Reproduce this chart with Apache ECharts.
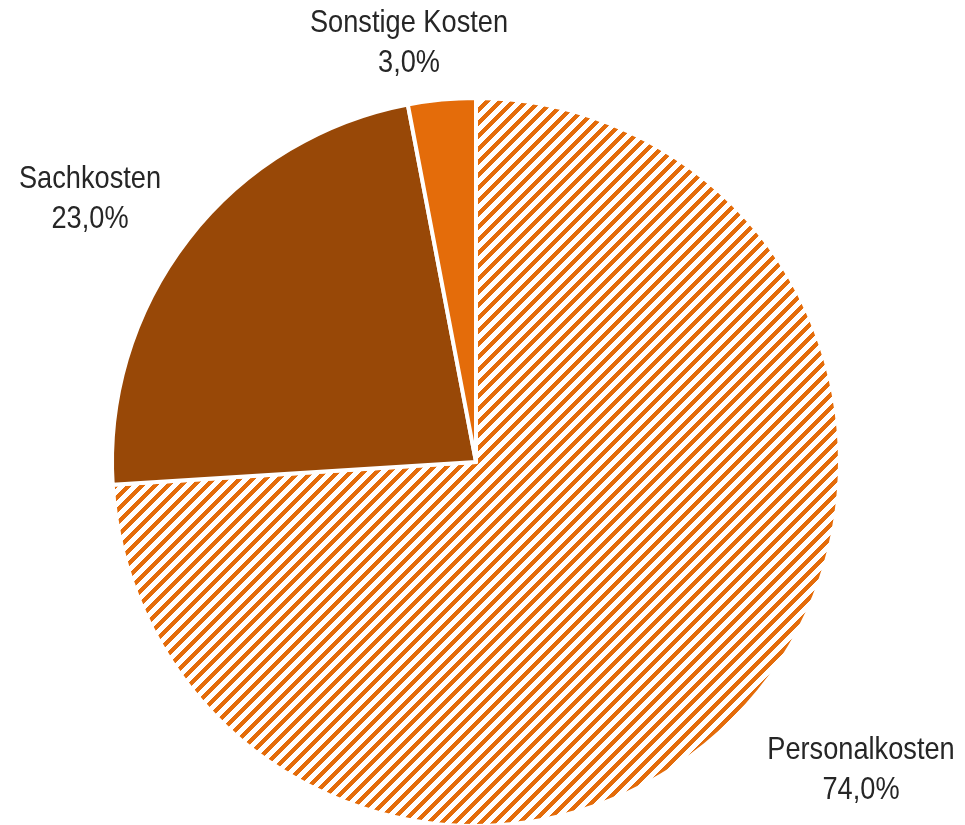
<!DOCTYPE html>
<html>
<head>
<meta charset="utf-8">
<style>
  html, body { margin: 0; padding: 0; background: #ffffff; }
  #chart { width: 965px; height: 825px; }
</style>
<script src="https://cdn.jsdelivr.net/npm/echarts@6/dist/echarts.min.js"></script>
</head>
<body>
<div id="chart"></div>
<script>
// Cost categories and their share in percent
const categories = ['Personalkosten', 'Sachkosten', 'Sonstige Kosten'];
const shares = [74.0, 23.0, 3.0];

// Label anchor points (block centres) for each slice, in pixels
const labelAnchors = [
  [861, 770],
  [90, 199],
  [409, 43]
];

const ORANGE = '#E46C0A';
const BROWN = '#984807';
const TEXT = '#262626';

// Diagonal hatch tile: crisp stripes rising to the right
function hatchTile(period, band, color) {
  const c = document.createElement('canvas');
  c.width = period;
  c.height = period;
  const ctx = c.getContext('2d');
  ctx.fillStyle = '#ffffff';
  ctx.fillRect(0, 0, period, period);
  ctx.fillStyle = color;
  for (let y = 0; y < period; y++) {
    for (let x = 0; x < period; x++) {
      if ((x + y) % period < band) ctx.fillRect(x, y, 1, 1);
    }
  }
  return c;
}

const fills = [
  { image: hatchTile(13, 6, ORANGE), repeat: 'repeat' },
  BROWN,
  ORANGE
];

const fmt = v => v.toFixed(1).replace('.', ',') + '%';

// Narrow-looking labels: regular sans, horizontally condensed
const labelFont = '32px "Liberation Sans", Arial, sans-serif';
const labelGraphics = categories.map((name, i) => ({
  type: 'text',
  x: labelAnchors[i][0],
  y: labelAnchors[i][1],
  scaleX: 0.85,
  silent: true,
  style: {
    text: name + '\n' + fmt(shares[i]),
    font: labelFont,
    lineHeight: 40,
    fill: TEXT,
    align: 'center',
    verticalAlign: 'middle'
  }
}));

const chart = echarts.init(document.getElementById('chart'), null, { renderer: 'canvas' });

chart.setOption({
  animation: false,
  backgroundColor: '#ffffff',
  graphic: labelGraphics,
  series: [{
    type: 'pie',
    center: [476, 462],
    radius: 364,
    startAngle: 90,
    clockwise: true,
    emphasis: { disabled: true },
    itemStyle: { borderColor: '#ffffff', borderWidth: 4 },
    label: { show: false },
    labelLine: { show: false },
    data: categories.map((name, i) => ({
      name: name,
      value: shares[i],
      itemStyle: { color: fills[i] }
    }))
  }]
});
</script>
</body>
</html>
